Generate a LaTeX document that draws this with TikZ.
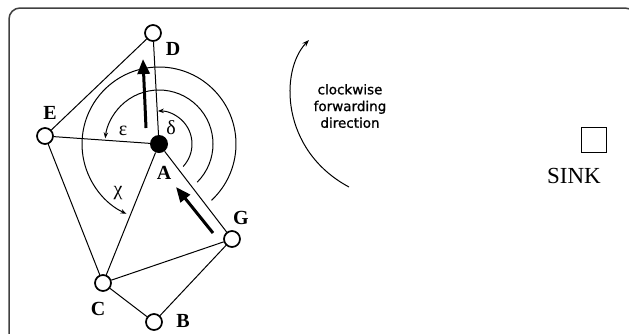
\documentclass[tikz,border=0pt]{standalone}
\usepackage{fontspec}
\setmainfont{Liberation Serif}
\newfontfamily\cwfont[FakeBold=1]{DejaVu Sans}
\usetikzlibrary{arrows.meta}
\begin{document}
\begin{tikzpicture}[x=1pt,y=1pt,
  nd/.style={circle,draw,line width=1.7pt,fill=white,minimum size=16pt,inner sep=0pt},
  src/.style={circle,fill=black,minimum size=18pt,inner sep=0pt},
  lbl/.style={font=\fontsize{20}{20}\selectfont\bfseries,inner sep=0pt},
  gr/.style={font=\fontsize{20}{20}\selectfont,inner sep=0pt},
  edge/.style={line width=1pt},
  bigarrow/.style={line width=3pt,-{Triangle[length=15pt,width=12pt]}},
  arcarrow/.style={line width=1pt,-{Stealth[length=6pt,width=4.5pt]}}]
\useasboundingbox (0,0) rectangle (629,-333);
\begin{scope}
\clip (0,0) rectangle (629,-333);
\draw[rounded corners=11pt,line width=1.5pt,black!75] (9,-8) rectangle (636,-350);
\end{scope}
% nodes
\node[src] (A) at (159,-144) {};
\node[nd] (D) at (153,-33) {};
\node[nd] (E) at (45,-136) {};
\node[nd] (G) at (232,-239) {};
\node[nd] (C) at (103,-283) {};
\node[nd] (B) at (154,-322) {};
% labels
\node[lbl] (lD) at (173,-49) {D};
\node[lbl] (lE) at (50,-113) {E};
\node[lbl] (lA) at (164,-173) {A};
\node[lbl] (lG) at (241,-218) {G};
\node[lbl] (lC) at (98,-309) {C};
\node[lbl] (lB) at (183,-321) {B};
% edges
\draw[edge] (D) -- (E);
\draw[edge] (D) -- (A);
\draw[edge] (E) -- (A);
\draw[edge] (E) -- (C);
\draw[edge] (A) -- (C);
\draw[edge] (A) -- (G);
\draw[edge] (C) -- (G);
\draw[edge] (C) -- (B);
\draw[edge] (B) -- (G);
% thick arrows
\coordinate (t1) at (146,-128);
\coordinate (h1) at (143,-59);
\coordinate (t2) at (213,-233);
\coordinate (h2) at (176,-187);
\draw[bigarrow] (t1) -- (h1);
\draw[bigarrow] (t2) -- (h2);
% angle arcs
\draw[arcarrow] ([shift={(-47:77)}]A.center) arc[start angle=-47,end angle=245,radius=77];
\draw[arcarrow] ([shift={(-45:54)}]A.center) arc[start angle=-45,end angle=174,radius=54];
\draw[arcarrow] ([shift={(-43:33)}]A.center) arc[start angle=-43,end angle=92,radius=33];
\node[gr] (eps) at (123,-131) {ε};
\node[gr] (del) at (171,-128) {δ};
\node[gr] (chi) at (118,-193) {χ};
% clockwise arrow
\coordinate (cw1) at (349,-187);
\coordinate (cw2) at (309,-40);
\draw[line width=1pt,-{Stealth[length=7pt,width=5pt]}] (cw1) .. controls (280,-150) and (280,-70) .. (cw2);
\node[font=\cwfont\fontsize{13.5}{16.7}\selectfont,align=center,inner sep=0pt] (cwtext) at (350,-106) {clockwise\\forwarding\\direction};
% sink
\node[draw,line width=1.8pt,minimum size=25pt,inner sep=0pt] (sink) at (594,-140) {};
\node[font=\fontsize{23}{23}\selectfont,inner sep=0pt] (sinklbl) at (574,-176) {SINK};
\end{tikzpicture}
\end{document}
